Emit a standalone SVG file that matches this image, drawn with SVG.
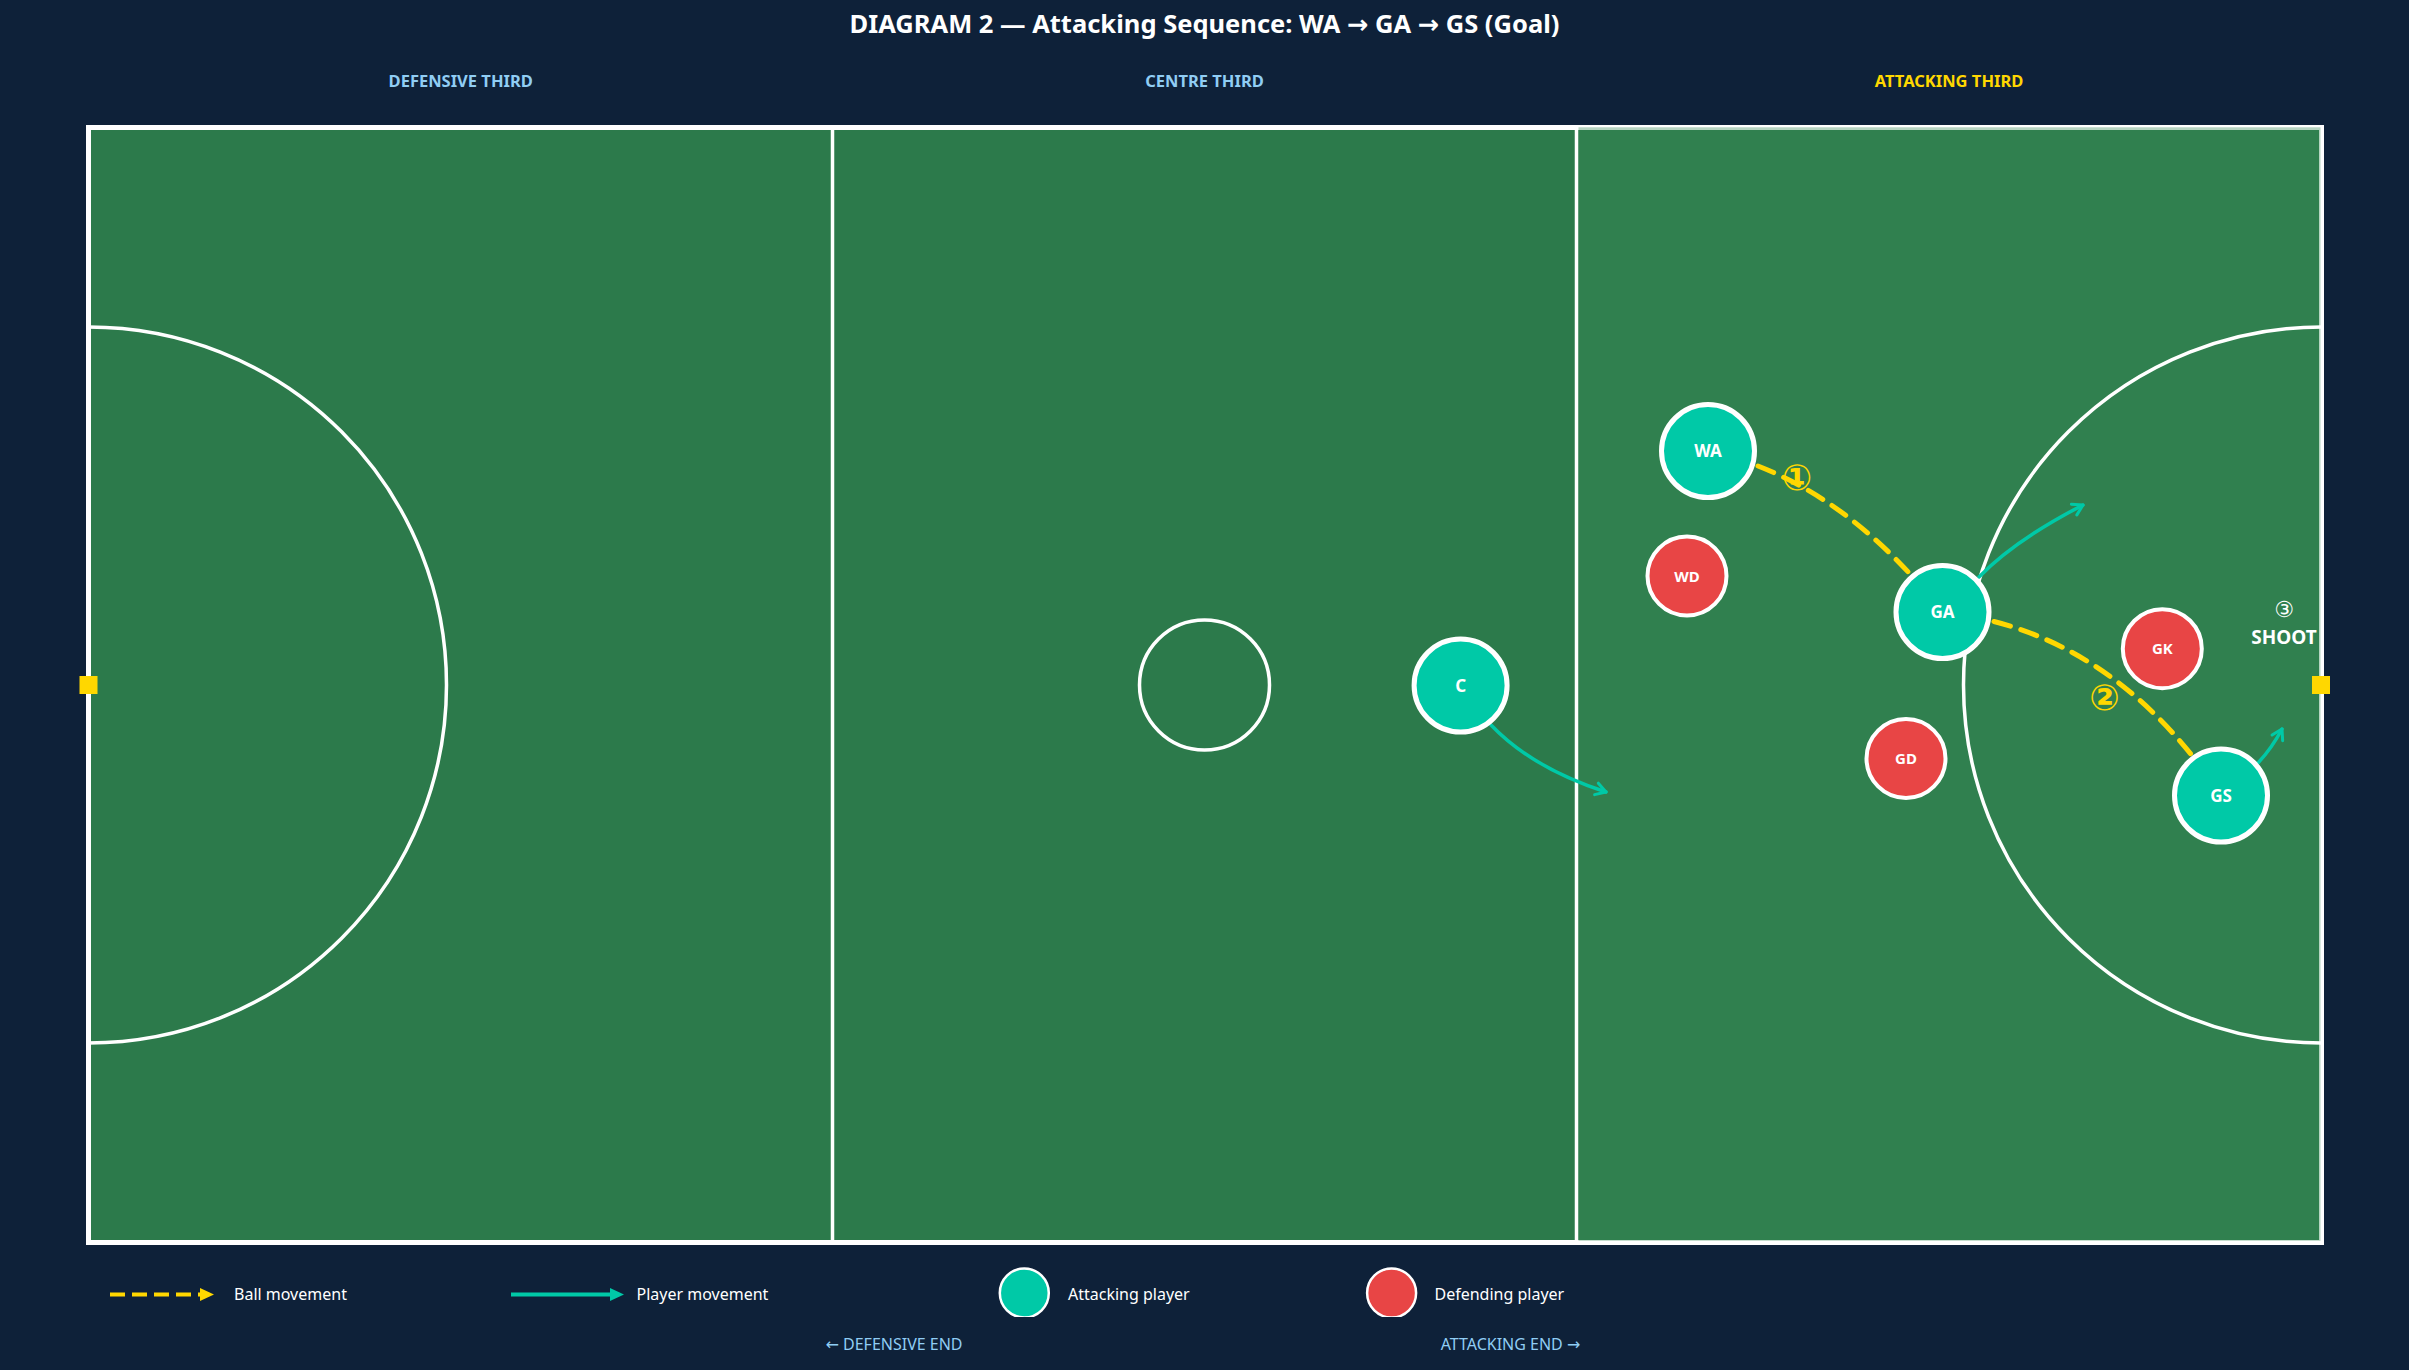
<svg xmlns="http://www.w3.org/2000/svg" width="2409" height="1370" viewBox="0 0 2409 1370">
<style>
  text{font-family:'Noto Sans','DejaVu Sans',sans-serif}
  .title{font-size:25.5px;font-weight:700;fill:#ffffff}
  .zone{font-size:16.5px;font-weight:700;fill:#90cdf4}
  .zone.att{fill:#ffd700}
  .line{fill:none;stroke:#ffffff;stroke-width:3.5}
  .att circle{fill:#00c9a7;stroke:#ffffff;stroke-width:5}
  .def circle{fill:#e84545;stroke:#ffffff;stroke-width:4}
  .att text{font-size:17px;font-weight:700;fill:#ffffff}
  .def text{font-size:15px;font-weight:700;fill:#ffffff}
  .ball{fill:none;stroke:#ffd700;stroke-width:5;stroke-dasharray:17 11;stroke-linecap:round}
  .move{fill:none;stroke:#00c9a7;stroke-width:3.5;stroke-linecap:round}
  .legend{font-size:16px;fill:#ffffff}
  .dir{font-size:16px;fill:#90cdf4}
  .num{font-weight:700;fill:#ffd700;font-size:36px}
</style>
<defs>
  <marker id="pm" viewBox="0 0 16 16" refX="13" refY="8" markerWidth="16" markerHeight="16" markerUnits="userSpaceOnUse" orient="auto">
    <path d="M3,2 L13,8 L3,14" fill="none" stroke="#00c9a7" stroke-width="3" stroke-linecap="round" stroke-linejoin="round"/>
  </marker>
  <marker id="bm" viewBox="0 0 16 16" refX="13" refY="8" markerWidth="16" markerHeight="16" markerUnits="userSpaceOnUse" orient="auto">
    <path d="M1,1 L15,8 L1,15 Z" fill="#ffd700"/>
  </marker>
  <clipPath id="legclip"><rect x="0" y="1255" width="2409" height="62"/></clipPath>
</defs>

<rect x="0" y="0" width="2409" height="1370" fill="#0e2139"/>

<text class="title" x="1204.5" y="33" text-anchor="middle">DIAGRAM 2 — Attacking Sequence: WA → GA → GS (Goal)</text>
<text class="zone" x="460.7" y="87" text-anchor="middle">DEFENSIVE THIRD</text>
<text class="zone" x="1204.5" y="87" text-anchor="middle">CENTRE THIRD</text>
<text class="zone att" x="1949" y="87" text-anchor="middle">ATTACKING THIRD</text>

<g id="court">
  <rect x="88.5" y="127.5" width="2233" height="1115" fill="#2c7a4b" stroke="#ffffff" stroke-width="5"/>
  <rect x="1578.5" y="127.3" width="742" height="1113.5" fill="#3a8a56" fill-opacity="0.37"/>
  <line class="line" x1="832.5" y1="130" x2="832.5" y2="1240"/>
  <line class="line" x1="1576.5" y1="130" x2="1576.5" y2="1240"/>
  <path class="line" d="M88.5,327 A358,358 0 0 1 88.5,1043"/>
  <path class="line" d="M2321.5,327 A358,358 0 0 0 2321.5,1043"/>
  <circle class="line" cx="1204.5" cy="685" r="65"/>
  <rect x="79.5" y="676" width="18" height="18" fill="#ffd700"/>
  <rect x="2312" y="676" width="18" height="18" fill="#ffd700"/>
</g>

<g id="connectors">
  <path class="ball" d="M1758,466 Q1860,506 1942,612" marker-end="url(#bm)"/>
  <path class="ball" d="M1994,621.5 Q2128,656 2221,795" marker-end="url(#bm)"/>
  <path class="move" d="M1491,725 Q1532,768 1606,792" marker-end="url(#pm)"/>
  <path class="move" d="M1979,577 Q2015,540 2083,505" marker-end="url(#pm)"/>
  <path class="move" d="M2258,763 Q2272,748 2282,729" marker-end="url(#pm)"/>
</g>

<g id="labels">
  <text class="num" x="1797" y="490" text-anchor="middle">①</text>
  <text class="num" x="2104.5" y="709.5" text-anchor="middle">②</text>
  <text x="2284" y="617" text-anchor="middle" font-size="22" fill="#ffffff">③</text>
  <text x="2284" y="644" text-anchor="middle" font-size="19" font-weight="700" fill="#ffffff">SHOOT</text>
</g>

<g id="node-wa" class="att"><circle cx="1708" cy="451" r="46.5"/><text x="1708" y="457" text-anchor="middle">WA</text></g>
<g id="node-ga" class="att"><circle cx="1942.5" cy="612" r="46.5"/><text x="1942.5" y="618" text-anchor="middle">GA</text></g>
<g id="node-gs" class="att"><circle cx="2221" cy="795.5" r="46.5"/><text x="2221" y="801.5" text-anchor="middle">GS</text></g>
<g id="node-c" class="att"><circle cx="1460.6" cy="685.5" r="46.5"/><text x="1460.6" y="691.5" text-anchor="middle">C</text></g>
<g id="node-wd" class="def"><circle cx="1687" cy="576" r="39.5"/><text x="1687" y="581.5" text-anchor="middle">WD</text></g>
<g id="node-gk" class="def"><circle cx="2162.3" cy="648.7" r="39.5"/><text x="2162.3" y="654.2" text-anchor="middle">GK</text></g>
<g id="node-gd" class="def"><circle cx="1906" cy="758.5" r="39.5"/><text x="1906" y="764" text-anchor="middle">GD</text></g>

<g id="legend">
  <line x1="110" y1="1294.5" x2="202" y2="1294.5" stroke="#ffd700" stroke-width="4" stroke-dasharray="15 7"/>
  <path d="M200,1288 L214,1294.5 L200,1301 Z" fill="#ffd700"/>
  <text class="legend" x="234" y="1299.5">Ball movement</text>
  <line x1="511" y1="1294.5" x2="612" y2="1294.5" stroke="#00c9a7" stroke-width="4"/>
  <path d="M610,1288 L624,1294.5 L610,1301 Z" fill="#00c9a7"/>
  <text class="legend" x="636.5" y="1299.5">Player movement</text>
  <g clip-path="url(#legclip)">
    <circle cx="1024.3" cy="1293" r="24.5" fill="#00c9a7" stroke="#ffffff" stroke-width="2.5"/>
    <circle cx="1391.6" cy="1293" r="24.5" fill="#e84545" stroke="#ffffff" stroke-width="2.5"/>
  </g>
  <text class="legend" x="1068" y="1299.5">Attacking player</text>
  <text class="legend" x="1434.5" y="1299.5">Defending player</text>
  <text class="dir" x="894" y="1350" text-anchor="middle">← DEFENSIVE END</text>
  <text class="dir" x="1510.5" y="1350" text-anchor="middle">ATTACKING END →</text>
</g>
</svg>
